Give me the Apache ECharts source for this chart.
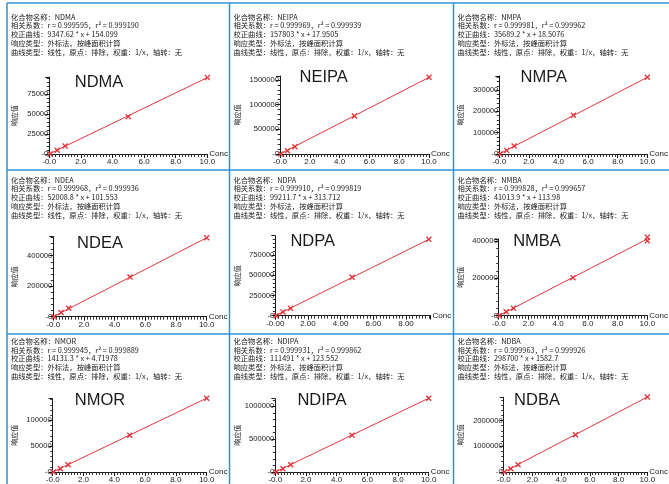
<!DOCTYPE html>
<html><head><meta charset="utf-8">
<script src="https://cdn.jsdelivr.net/npm/echarts@6/dist/echarts.min.js"></script>
<style>html,body{margin:0;padding:0;background:#fff}#c{width:669px;height:484px}</style>
</head><body><div id="c"></div>
<script>
// ---- data ----
const compounds = ['NDMA','NEIPA','NMPA','NDEA','NDPA','NMBA','NMOR','NDIPA','NDBA'];
const rValues = ['0.999595','0.999969','0.999981','0.999968','0.999910','0.999828','0.999945','0.999931','0.999963'];
const r2Values = ['0.999190','0.999939','0.999962','0.999936','0.999819','0.999657','0.999889','0.999862','0.999926'];
const equations = ['9347.62 * x + 154.099','157803 * x + 17.9505','35689.2 * x + 18.5076','52008.8 * x + 101.553','99211.7 * x + 313.712','41013.9 * x + 113.98','14131.3 * x + 4.71978','111491 * x + 123.552','298700 * x + 1582.7'];

const concNDMA = [0.05, 0.5, 1, 5, 10];
const respNDMA = [150, 4600, 10000, 46700, 95500];
const concNEIPA = [0.05, 0.5, 1, 5, 10];
const respNEIPA = [0, 67000, 148000, 769000, 1552000];
const concNMPA = [0.05, 0.5, 1, 5, 10];
const respNMPA = [0, 17000, 37500, 181700, 360000];
const concNDEA = [0.05, 0.5, 1, 5, 10];
const respNDEA = [0, 28000, 55000, 260000, 518000];
const concNDPA = [0.05, 0.47, 0.94, 4.7, 9.4];
const respNDPA = [0, 46000, 91000, 475000, 945000];
const concNMBA = [0.05, 0.5, 1, 5, 10, 10];
const respNMBA = [0, 21500, 39500, 204000, 401000, 421000];
const concNMOR = [0.05, 0.5, 1, 5, 10];
const respNMOR = [0, 6400, 14100, 71100, 143000];
const concNDIPA = [0.05, 0.5, 1, 5, 10];
const respNDIPA = [0, 50000, 111000, 559000, 1125000];
const concNDBA = [0.05, 0.5, 1, 5, 10];
const respNDBA = [0, 128000, 284000, 1451000, 2918000];

// fitted line: [x start, y start, x end, y end]
const fitNDMA = [0, 154, 10, 95500];
const fitNEIPA = [0, 18, 10, 1552000];
const fitNMPA = [0, 19, 10, 360000];
const fitNDEA = [0, 102, 10, 518000];
const fitNDPA = [0, 314, 9.4, 945000];
const fitNMBA = [0, 114, 10, 411000];
const fitNMOR = [0, 5, 10, 143000];
const fitNDIPA = [0, 124, 10, 1125000];
const fitNDBA = [0, 1583, 10, 2918000];

const xMaxes = [10, 10, 10, 10, 9.5, 10, 10, 10, 10];
const xDecimals = [1, 1, 1, 1, 2, 1, 1, 1, 1];
const xStep = 2;
const yMaxes = [96250, 1579000, 366000, 524600, 990000, 411000, 142000, 1117000, 2907000];
const ySteps = [25000, 500000, 100000, 200000, 250000, 200000, 50000, 500000, 1000000];

const infoLine4 = '响应类型：外标法，按峰面积计算';
const infoLine5 = '曲线类型：线性，原点：排除，权重：1/x，轴转：无';
const yName = '响应值';
const xName = 'Conc';

const concs = [concNDMA, concNEIPA, concNMPA, concNDEA, concNDPA, concNMBA, concNMOR, concNDIPA, concNDBA];
const resps = [respNDMA, respNEIPA, respNMPA, respNDEA, respNDPA, respNMBA, respNMOR, respNDIPA, respNDBA];
const fits = [fitNDMA, fitNEIPA, fitNMPA, fitNDEA, fitNDPA, fitNMBA, fitNMOR, fitNDIPA, fitNDBA];

// ---- layout ----
const colLeft = [7, 229.5, 453.5];
const rowTop = [3, 170, 334];
const infoY = [17, 180, 341.3];
const gridLeft = [49.3, 280, 499.3, 53.3, 275.3, 498.7, 52.7, 275.3, 503.7];
const axisBaseY = [154, 154, 154, 316.7, 315.7, 315.7, 472, 472, 472];
const gridW = [158, 149, 154, 153.4, 155.2, 152.3, 154, 153.4, 147.3];
const gridH = [77, 78, 78, 80, 80, 76.7, 73.3, 73.3, 74.7];
const titleX = [99, 323.7, 543.7, 100, 312.7, 537, 100, 322, 537];
const titleY = [82, 77, 77, 243.3, 241.7, 241.7, 400.7, 400.7, 400.7];
const yNameX = [14, 237, 460];

const RED = '#e0363c';
const BLUE = '#3192d2';
const INK = '#1a1a1a';
const XPATH = 'path://M0,1.6L1.6,0L5,3.4L8.4,0L10,1.6L6.6,5L10,8.4L8.4,10L5,6.6L1.6,10L0,8.4L3.4,5Z';

const grids = [], xAxes = [], yAxes = [], series = [], graphics = [];
function isMult(v, s) { const q = v / s; return Math.abs(q - Math.round(q)) < 1e-6; }

for (let i = 0; i < 9; i++) {
  const col = i % 3, row = Math.floor(i / 3);
  grids.push({ left: gridLeft[i], top: axisBaseY[i] - gridH[i], width: gridW[i], height: gridH[i], containLabel: false });
  const dec = xDecimals[i];
  xAxes.push({
    gridIndex: i, type: 'value', min: 0, max: xMaxes[i], interval: xStep,
    name: xName, nameLocation: 'end', nameGap: 2,
    nameTextStyle: { fontSize: 8, color: INK, fontFamily: 'Liberation Sans' },
    axisLine: { lineStyle: { color: INK, width: 1 } },
    axisTick: { show: true, length: 4, lineStyle: { color: INK, width: 1 } },
    minorTick: { show: true, splitNumber: 10, length: 3, lineStyle: { color: '#333', width: 1 } },
    splitLine: { show: false }, minorSplitLine: { show: false },
    axisLabel: { fontSize: 8, color: INK, margin: 4, fontFamily: 'Liberation Sans', showMinLabel: true, showMaxLabel: true,
      formatter: v => !isMult(v, xStep) ? '' : (v === 0 ? '-' + (0).toFixed(dec) : v.toFixed(dec)) }
  });
  const ys = ySteps[i];
  yAxes.push({
    gridIndex: i, type: 'value', min: 0, max: yMaxes[i], interval: ys,
    name: yName, nameLocation: 'middle', nameRotate: 90,
    nameGap: gridLeft[i] - yNameX[col] - 3.5,
    nameTextStyle: { fontSize: 7, color: INK, fontFamily: 'Noto Sans CJK SC' },
    axisLine: { show: true, lineStyle: { color: INK, width: 1 } },
    axisTick: { show: true, length: 4, lineStyle: { color: INK, width: 1 } },
    minorTick: { show: true, splitNumber: 5, length: 2.5, lineStyle: { color: '#333', width: 1 } },
    splitLine: { show: false }, minorSplitLine: { show: false },
    axisLabel: { fontSize: 7.6, color: INK, margin: 1, fontFamily: 'Liberation Sans', showMinLabel: true, showMaxLabel: true,
      formatter: v => !isMult(v, ys) ? '' : (v === 0 ? '-0' : String(v)) }
  });
  const f = fits[i];
  series.push({
    type: 'line', xAxisIndex: i, yAxisIndex: i, data: [[f[0], f[1]], [f[2], f[3]]],
    symbol: 'none', lineStyle: { color: RED, width: 1 }, silent: true, clip: false, z: 2
  });
  series.push({
    type: 'scatter', xAxisIndex: i, yAxisIndex: i,
    data: concs[i].map((c, k) => [c, resps[i][k]]),
    symbol: XPATH, symbolSize: 6, itemStyle: { color: RED, opacity: 1 }, clip: false, z: 3
  });
  // info text block
  graphics.push({
    type: 'text', x: colLeft[col] + 4, y: infoY[row] - 4.35, silent: true,
    style: {
      text: ['化合物名称：' + compounds[i], '相关系数：r = ' + rValues[i] + '，r² = ' + r2Values[i],
             '校正曲线：' + equations[i], infoLine4, infoLine5].join('\n'),
      font: '7.3px "Noto Sans CJK SC", "Liberation Sans", sans-serif', lineHeight: 8.7,
      fill: INK, align: 'left', verticalAlign: 'top'
    }
  });
  // big compound title
  graphics.push({
    type: 'text', x: titleX[i], y: titleY[i], silent: true,
    style: { text: compounds[i], font: '16.5px "Liberation Sans", Arial, sans-serif', fill: INK, align: 'center', verticalAlign: 'middle' }
  });
}
// panel borders
for (const x of colLeft) {
  graphics.push({ type: 'line', silent: true, shape: { x1: x, y1: rowTop[0], x2: x, y2: 484 }, style: { stroke: BLUE, lineWidth: 1.5 } });
}
for (const y of rowTop) {
  graphics.push({ type: 'line', silent: true, shape: { x1: colLeft[0], y1: y, x2: 669, y2: y }, style: { stroke: BLUE, lineWidth: 1.5 } });
}

const chart = echarts.init(document.getElementById('c'), null, { renderer: 'canvas' });
chart.setOption({
  animation: false, backgroundColor: '#fff',
  grid: grids, xAxis: xAxes, yAxis: yAxes, series: series, graphic: graphics
});
</script></body></html>
